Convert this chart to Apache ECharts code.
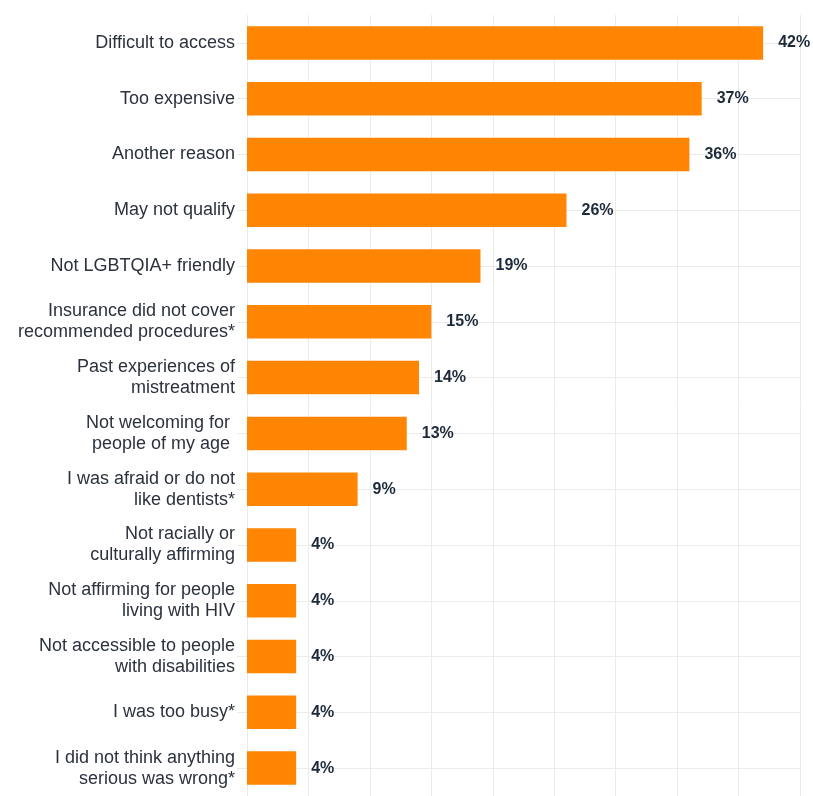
<!DOCTYPE html>
<html>
<head>
<meta charset="utf-8">
<script src="https://cdn.jsdelivr.net/npm/echarts@6/dist/echarts.min.js"></script>
<style>
  html, body { margin: 0; padding: 0; background: #fff; }
  #chart { width: 813px; height: 796px; }
</style>
</head>
<body>
<div id="chart"></div>
<script>
// Reasons given for not getting dental care (share of respondents, %)
const categories = [
  'Difficult to access',
  'Too expensive',
  'Another reason',
  'May not qualify',
  'Not LGBTQIA+ friendly',
  'Insurance did not cover\nrecommended procedures*',
  'Past experiences of\nmistreatment',
  'Not welcoming for \npeople of my age ',
  'I was afraid or do not\nlike dentists*',
  'Not racially or\nculturally affirming',
  'Not affirming for people\nliving with HIV',
  'Not accessible to people\nwith disabilities',
  'I was too busy*',
  'I did not think anything\nserious was wrong*'
];
const values = [42, 37, 36, 26, 19, 15, 14, 13, 9, 4, 4, 4, 4, 4];

const axisMax = 45;
const axisStep = 5;

const FONT = '"Liberation Sans", Arial, Helvetica, sans-serif';
const GRID_COLOR = '#ebebeb';

const chart = echarts.init(document.getElementById('chart'), null, { renderer: 'canvas' });

chart.setOption({
  backgroundColor: '#ffffff',
  animation: false,
  grid: { left: 247, right: 13, top: 15, bottom: -2, containLabel: false },
  xAxis: {
    type: 'value',
    min: 0,
    max: axisMax,
    interval: axisStep,
    axisLabel: { show: false },
    axisLine: { show: false },
    axisTick: { show: false },
    splitLine: { show: true, lineStyle: { color: GRID_COLOR, width: 1 } }
  },
  yAxis: {
    type: 'category',
    data: categories,
    inverse: true,
    axisLine: { show: false },
    axisTick: { show: true, alignWithLabel: true, length: 10, lineStyle: { color: GRID_COLOR } },
    splitLine: { show: true, alignWithLabel: true, lineStyle: { color: GRID_COLOR, width: 1 } },
    axisLabel: {
      margin: 12,
      fontFamily: FONT,
      fontSize: 18,
      lineHeight: 21,
      color: '#2b323e',
      align: 'right'
    }
  },
  series: [{
    type: 'bar',
    data: values,
    barWidth: '60%',
    itemStyle: { color: '#ff8503' },
    label: {
      show: true,
      position: 'right',
      distance: 15,
      formatter: '{c}%',
      fontFamily: FONT,
      fontSize: 16,
      fontWeight: 'bold',
      color: '#1d2a3a'
    }
  }]
});
</script>
</body>
</html>
